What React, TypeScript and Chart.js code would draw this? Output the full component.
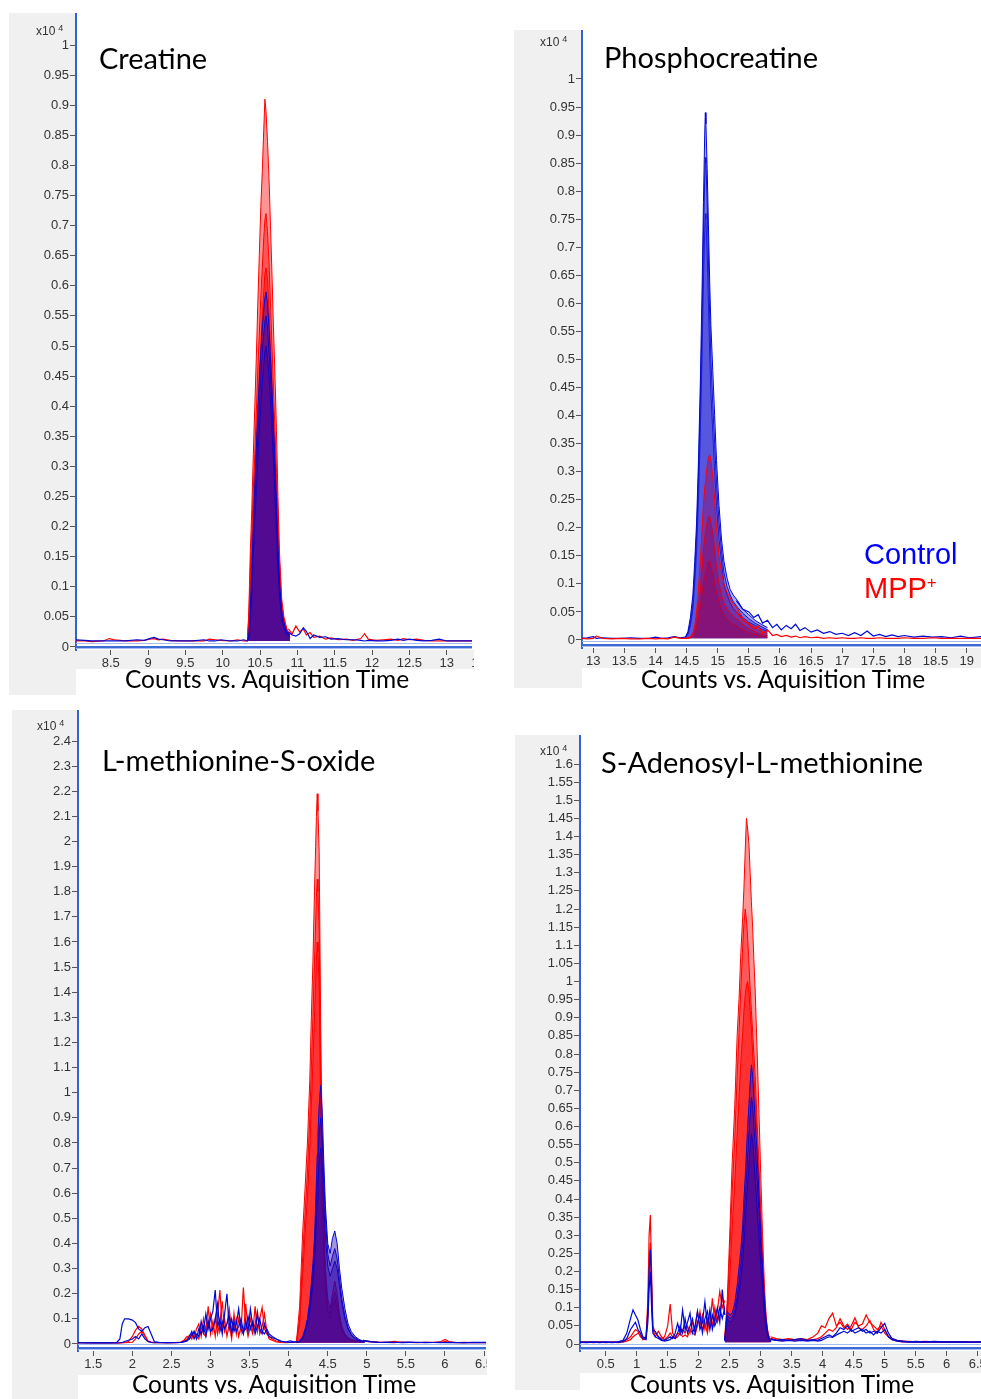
import React, { useEffect, useRef } from 'react';
import { Chart, registerables } from 'chart.js';

Chart.register(...registerables);

// ======================= Creatine =======================
const CR_X_TICKS = [8.5, 9, 9.5, 10, 10.5, 11, 11.5, 12, 12.5, 13, 13.5];
const CR_Y_TICKS = [0, 0.05, 0.1, 0.15, 0.2, 0.25, 0.3, 0.35, 0.4, 0.45, 0.5, 0.55, 0.6, 0.65, 0.7, 0.75, 0.8, 0.85, 0.9, 0.95, 1];
const CR_NOISE_T = [8.0, 8.15, 8.25, 8.4, 8.48, 8.55, 8.7, 8.85, 8.95, 9.02, 9.08, 9.14, 9.2, 9.3, 9.45, 9.6, 9.75, 9.82, 9.9, 9.98, 10.1, 10.2, 10.28, 10.34, 10.88, 10.93, 10.98, 11.03, 11.08, 11.12, 11.17, 11.22, 11.3, 11.38, 11.45, 11.55, 11.65, 11.75, 11.85, 11.9, 11.95, 12.05, 12.15, 12.25, 12.35, 12.42, 12.5, 12.6, 12.7, 12.8, 12.9, 13.0, 13.1, 13.2, 13.4];
const CR_NOISE_RED = [0.010, 0.010, 0.009, 0.010, 0.014, 0.012, 0.010, 0.010, 0.011, 0.013, 0.014, 0.012, 0.013, 0.011, 0.010, 0.010, 0.010, 0.013, 0.012, 0.011, 0.010, 0.012, 0.010, 0.010, 0.030, 0.022, 0.035, 0.025, 0.030, 0.020, 0.024, 0.016, 0.018, 0.013, 0.015, 0.012, 0.013, 0.011, 0.014, 0.022, 0.013, 0.011, 0.012, 0.013, 0.011, 0.014, 0.012, 0.013, 0.011, 0.010, 0.010, 0.010, 0.010, 0.010, 0.010];
const CR_NOISE_BLUE = [0.012, 0.011, 0.010, 0.010, 0.010, 0.010, 0.010, 0.012, 0.011, 0.014, 0.016, 0.013, 0.012, 0.010, 0.010, 0.010, 0.012, 0.010, 0.010, 0.012, 0.010, 0.010, 0.012, 0.010, 0.025, 0.020, 0.018, 0.022, 0.032, 0.026, 0.014, 0.020, 0.016, 0.017, 0.013, 0.014, 0.012, 0.012, 0.011, 0.010, 0.011, 0.010, 0.010, 0.011, 0.013, 0.011, 0.013, 0.011, 0.010, 0.011, 0.013, 0.010, 0.010, 0.010, 0.010];
const CR_PEAK_T = [10.33, 10.35, 10.37, 10.39, 10.41, 10.43, 10.45, 10.47, 10.49, 10.51, 10.53, 10.55, 10.565, 10.58, 10.60, 10.62, 10.64, 10.66, 10.68, 10.70, 10.72, 10.74, 10.76, 10.79, 10.82, 10.86, 10.90];
const CR_RED_1 = [0.01, 0.06, 0.16, 0.23, 0.32, 0.40, 0.48, 0.57, 0.65, 0.73, 0.79, 0.86, 0.91, 0.89, 0.84, 0.78, 0.70, 0.62, 0.53, 0.45, 0.36, 0.25, 0.16, 0.08, 0.05, 0.03, 0.02];
const CR_RED_2 = [0.01, 0.05, 0.13, 0.19, 0.26, 0.32, 0.39, 0.46, 0.52, 0.58, 0.63, 0.68, 0.71, 0.72, 0.69, 0.64, 0.57, 0.50, 0.43, 0.36, 0.29, 0.21, 0.14, 0.07, 0.045, 0.028, 0.018];
const CR_RED_3 = [0.01, 0.04, 0.11, 0.16, 0.22, 0.28, 0.34, 0.40, 0.45, 0.50, 0.55, 0.59, 0.62, 0.63, 0.61, 0.56, 0.50, 0.44, 0.38, 0.32, 0.25, 0.18, 0.12, 0.06, 0.04, 0.025, 0.016];
const CR_BLUE_1 = [0.01, 0.02, 0.06, 0.13, 0.20, 0.27, 0.33, 0.39, 0.44, 0.49, 0.53, 0.56, 0.58, 0.59, 0.57, 0.53, 0.48, 0.43, 0.37, 0.31, 0.24, 0.17, 0.11, 0.06, 0.04, 0.025, 0.02];
const CR_BLUE_2 = [0.01, 0.015, 0.05, 0.11, 0.18, 0.24, 0.30, 0.35, 0.40, 0.45, 0.49, 0.52, 0.54, 0.55, 0.53, 0.49, 0.45, 0.40, 0.34, 0.28, 0.22, 0.15, 0.10, 0.05, 0.035, 0.022, 0.018];
const CR_BLUE_3 = [0.01, 0.013, 0.04, 0.09, 0.15, 0.21, 0.26, 0.31, 0.36, 0.40, 0.44, 0.47, 0.49, 0.50, 0.48, 0.45, 0.41, 0.36, 0.31, 0.25, 0.19, 0.13, 0.085, 0.045, 0.03, 0.02, 0.016];

// ======================= Phosphocreatine =======================
const PC_X_TICKS = [13, 13.5, 14, 14.5, 15, 15.5, 16, 16.5, 17, 17.5, 18, 18.5, 19];
const PC_Y_TICKS = [0, 0.05, 0.1, 0.15, 0.2, 0.25, 0.3, 0.35, 0.4, 0.45, 0.5, 0.55, 0.6, 0.65, 0.7, 0.75, 0.8, 0.85, 0.9, 0.95, 1];
const PC_NOISE_T = [12.8, 12.9, 13.0, 13.05, 13.15, 13.3, 13.45, 13.6, 13.75, 13.9, 14.0, 14.1, 14.2, 14.3, 14.4, 14.48, 15.3, 15.4, 15.5, 15.58, 15.65, 15.72, 15.8, 15.88, 15.95, 16.02, 16.1, 16.18, 16.25, 16.32, 16.4, 16.5, 16.6, 16.7, 16.8, 16.9, 17.0, 17.1, 17.2, 17.3, 17.4, 17.5, 17.6, 17.7, 17.8, 17.9, 18.0, 18.15, 18.3, 18.45, 18.6, 18.75, 18.9, 19.05, 19.25];
const PC_NOISE_BLUE = [0.003, 0.004, 0.006, 0.003, 0.004, 0.003, 0.003, 0.004, 0.003, 0.003, 0.005, 0.003, 0.004, 0.006, 0.004, 0.005, 0.07, 0.055, 0.05, 0.04, 0.045, 0.03, 0.035, 0.022, 0.028, 0.018, 0.026, 0.02, 0.028, 0.017, 0.022, 0.014, 0.018, 0.012, 0.015, 0.01, 0.012, 0.008, 0.013, 0.008, 0.016, 0.007, 0.01, 0.006, 0.009, 0.006, 0.008, 0.005, 0.007, 0.005, 0.006, 0.004, 0.007, 0.004, 0.006];
const PC_NOISE_RED = [0.003, 0.002, 0.003, 0.007, 0.003, 0.002, 0.003, 0.002, 0.002, 0.003, 0.002, 0.003, 0.002, 0.005, 0.003, 0.003, 0.05, 0.035, 0.028, 0.02, 0.025, 0.012, 0.018, 0.008, 0.01, 0.006, 0.008, 0.005, 0.007, 0.004, 0.006, 0.004, 0.005, 0.003, 0.004, 0.003, 0.004, 0.003, 0.003, 0.004, 0.003, 0.003, 0.004, 0.003, 0.003, 0.003, 0.004, 0.003, 0.003, 0.004, 0.003, 0.003, 0.003, 0.003, 0.003];
const PC_PEAK_T = [14.48, 14.52, 14.56, 14.60, 14.63, 14.66, 14.69, 14.72, 14.75, 14.77, 14.79, 14.80, 14.81, 14.83, 14.85, 14.87, 14.89, 14.92, 14.95, 14.98, 15.02, 15.06, 15.10, 15.15, 15.20, 15.25, 15.32, 15.40, 15.50, 15.60, 15.70, 15.80];
const PC_BLUE_1 = [0.005, 0.015, 0.04, 0.08, 0.14, 0.21, 0.32, 0.46, 0.64, 0.78, 0.90, 0.94, 0.92, 0.84, 0.74, 0.64, 0.56, 0.48, 0.40, 0.32, 0.24, 0.18, 0.14, 0.11, 0.09, 0.08, 0.07, 0.055, 0.045, 0.035, 0.028, 0.022];
const PC_BLUE_2 = [0.004, 0.012, 0.03, 0.065, 0.12, 0.19, 0.29, 0.42, 0.58, 0.72, 0.82, 0.86, 0.85, 0.78, 0.68, 0.58, 0.50, 0.42, 0.35, 0.28, 0.21, 0.16, 0.12, 0.095, 0.08, 0.068, 0.058, 0.048, 0.038, 0.03, 0.024, 0.018];
const PC_BLUE_3 = [0.004, 0.01, 0.025, 0.055, 0.10, 0.16, 0.25, 0.37, 0.52, 0.64, 0.73, 0.76, 0.75, 0.69, 0.60, 0.51, 0.44, 0.37, 0.30, 0.24, 0.18, 0.14, 0.10, 0.08, 0.066, 0.056, 0.048, 0.04, 0.032, 0.026, 0.02, 0.015];
const PC_RED_1 = [0.003, 0.004, 0.006, 0.012, 0.025, 0.05, 0.09, 0.14, 0.20, 0.24, 0.27, 0.28, 0.29, 0.31, 0.325, 0.33, 0.32, 0.29, 0.25, 0.20, 0.15, 0.12, 0.10, 0.085, 0.075, 0.065, 0.055, 0.04, 0.03, 0.022, 0.015, 0.012];
const PC_RED_2 = [0.003, 0.003, 0.005, 0.009, 0.018, 0.035, 0.06, 0.09, 0.13, 0.16, 0.18, 0.19, 0.20, 0.21, 0.22, 0.22, 0.21, 0.19, 0.16, 0.13, 0.10, 0.08, 0.065, 0.055, 0.048, 0.042, 0.036, 0.028, 0.02, 0.015, 0.01, 0.008];
const PC_RED_3 = [0.003, 0.003, 0.004, 0.007, 0.012, 0.022, 0.04, 0.06, 0.085, 0.10, 0.115, 0.12, 0.125, 0.13, 0.14, 0.14, 0.13, 0.12, 0.10, 0.085, 0.068, 0.055, 0.045, 0.038, 0.032, 0.028, 0.024, 0.018, 0.013, 0.01, 0.007, 0.005];

// ======================= L-methionine-S-oxide =======================
const LM_X_TICKS = [1.5, 2, 2.5, 3, 3.5, 4, 4.5, 5, 5.5, 6, 6.5];
const LM_Y_TICKS = [0, 0.1, 0.2, 0.3, 0.4, 0.5, 0.6, 0.7, 0.8, 0.9, 1, 1.1, 1.2, 1.3, 1.4, 1.5, 1.6, 1.7, 1.8, 1.9, 2, 2.1, 2.2, 2.3, 2.4];
const LM_NOISE_T = [1.3, 1.4, 1.5, 1.6, 1.7, 1.8, 1.84, 1.87, 1.9, 1.95, 2.0, 2.04, 2.08, 2.12, 2.16, 2.2, 2.24, 2.28, 2.35, 2.45, 2.55, 2.62, 2.66, 2.7, 2.73, 2.76, 2.79, 2.82, 2.85, 2.88, 2.91, 2.94, 2.97, 3.0, 3.03, 3.06, 3.09, 3.12, 3.15, 3.18, 3.21, 3.24, 3.27, 3.3, 3.33, 3.36, 3.39, 3.42, 3.45, 3.48, 3.51, 3.54, 3.57, 3.6, 3.63, 3.66, 3.69, 3.72, 3.75, 3.79, 3.84, 3.9, 3.96, 4.02, 4.08, 4.12, 4.95, 5.05, 5.15, 5.25, 5.35, 5.45, 5.55, 5.65, 5.75, 5.85, 5.95, 6.0, 6.05, 6.15, 6.25, 6.35, 6.55];
const LM_NOISE_RED_A = [
  0.005, 0.005, 0.006, 0.005, 0.005, 0.005, 0.005, 0.005, 0.006, 0.01,
  0.03, 0.055, 0.07, 0.06, 0.035, 0.012, 0.008, 0.006, 0.006, 0.005,
  0.006, 0.008, 0.015, 0.03, 0.02, 0.04, 0.025, 0.06, 0.08, 0.03,
  0.1, 0.05, 0.15, 0.04, 0.09, 0.03, 0.12, 0.215, 0.06, 0.1,
  0.03, 0.08, 0.02, 0.12, 0.04, 0.1, 0.05, 0.225, 0.08, 0.03,
  0.07, 0.04, 0.15, 0.05, 0.1, 0.145, 0.06, 0.04, 0.03, 0.02,
  0.012, 0.008, 0.006, 0.006, 0.008, 0.01, 0.015, 0.01, 0.008, 0.007,
  0.01, 0.006, 0.007, 0.006, 0.007, 0.006, 0.01, 0.018, 0.01, 0.006,
  0.007, 0.006, 0.006];
const LM_NOISE_RED_B = [
  0.004, 0.006, 0.004, 0.005, 0.004, 0.005, 0.004, 0.005, 0.005, 0.006,
  0.007, 0.02, 0.04, 0.05, 0.03, 0.01, 0.006, 0.005, 0.005, 0.006,
  0.005, 0.006, 0.01, 0.02, 0.035, 0.02, 0.05, 0.03, 0.02, 0.07,
  0.04, 0.03, 0.08, 0.12, 0.05, 0.1, 0.04, 0.09, 0.17, 0.05,
  0.08, 0.14, 0.05, 0.06, 0.1, 0.03, 0.07, 0.04, 0.16, 0.06,
  0.1, 0.05, 0.08, 0.13, 0.04, 0.07, 0.12, 0.05, 0.02, 0.015,
  0.008, 0.006, 0.005, 0.006, 0.007, 0.01, 0.012, 0.008, 0.007, 0.006,
  0.005, 0.008, 0.006, 0.005, 0.006, 0.007, 0.006, 0.01, 0.007, 0.005,
  0.006, 0.005, 0.005];
const LM_NOISE_BLUE_A = [
  0.006, 0.005, 0.005, 0.006, 0.005, 0.006, 0.02, 0.08, 0.1, 0.1,
  0.095, 0.085, 0.06, 0.05, 0.065, 0.07, 0.04, 0.01, 0.006, 0.005,
  0.006, 0.007, 0.01, 0.015, 0.03, 0.05, 0.02, 0.04, 0.03, 0.09,
  0.05, 0.12, 0.06, 0.1, 0.13, 0.215, 0.07, 0.1, 0.04, 0.12,
  0.2, 0.06, 0.1, 0.05, 0.08, 0.14, 0.06, 0.04, 0.09, 0.05,
  0.14, 0.07, 0.05, 0.12, 0.06, 0.04, 0.08, 0.05, 0.03, 0.025,
  0.02, 0.01, 0.008, 0.012, 0.008, 0.01, 0.012, 0.008, 0.006, 0.008,
  0.006, 0.007, 0.008, 0.006, 0.007, 0.006, 0.005, 0.006, 0.007, 0.006,
  0.005, 0.007, 0.006];
const LM_NOISE_BLUE_B = [
  0.005, 0.004, 0.005, 0.004, 0.005, 0.004, 0.005, 0.006, 0.01, 0.015,
  0.02, 0.03, 0.02, 0.04, 0.02, 0.01, 0.006, 0.005, 0.005, 0.006,
  0.005, 0.006, 0.008, 0.012, 0.02, 0.035, 0.05, 0.02, 0.06, 0.04,
  0.07, 0.03, 0.09, 0.05, 0.06, 0.1, 0.16, 0.05, 0.09, 0.06,
  0.08, 0.11, 0.04, 0.09, 0.05, 0.07, 0.1, 0.05, 0.06, 0.11,
  0.06, 0.09, 0.04, 0.07, 0.1, 0.05, 0.04, 0.06, 0.04, 0.03,
  0.02, 0.012, 0.008, 0.006, 0.008, 0.01, 0.015, 0.01, 0.007, 0.006,
  0.007, 0.005, 0.006, 0.007, 0.005, 0.006, 0.007, 0.005, 0.006, 0.005,
  0.006, 0.005, 0.005];
const LM_PEAK_T = [4.1, 4.14, 4.18, 4.21, 4.24, 4.27, 4.29, 4.31, 4.33, 4.345, 4.355, 4.365, 4.375, 4.39, 4.41, 4.43, 4.45, 4.47, 4.5, 4.53, 4.56, 4.59, 4.62, 4.65, 4.68, 4.72, 4.76, 4.8, 4.85, 4.9, 4.97];
const LM_RED_1 = [0.01, 0.15, 0.45, 0.62, 0.8, 1.05, 1.3, 1.52, 1.8, 1.98, 2.1, 2.19, 2.12, 1.96, 1.25, 0.8, 0.5, 0.3, 0.18, 0.14, 0.2, 0.25, 0.2, 0.12, 0.07, 0.04, 0.025, 0.018, 0.014, 0.012, 0.01];
const LM_RED_2 = [0.01, 0.1, 0.35, 0.52, 0.68, 0.9, 1.1, 1.3, 1.52, 1.68, 1.78, 1.85, 1.8, 1.65, 1.05, 0.68, 0.42, 0.26, 0.15, 0.12, 0.17, 0.21, 0.17, 0.1, 0.06, 0.035, 0.022, 0.016, 0.012, 0.01, 0.008];
const LM_RED_3 = [0.008, 0.08, 0.28, 0.44, 0.58, 0.77, 0.95, 1.12, 1.3, 1.44, 1.53, 1.6, 1.56, 1.42, 0.9, 0.58, 0.36, 0.22, 0.13, 0.1, 0.14, 0.18, 0.14, 0.09, 0.05, 0.03, 0.02, 0.014, 0.01, 0.009, 0.007];
const LM_BLUE_1 = [0.006, 0.012, 0.03, 0.06, 0.1, 0.17, 0.24, 0.32, 0.42, 0.55, 0.65, 0.75, 0.84, 0.95, 1.03, 0.92, 0.72, 0.55, 0.4, 0.36, 0.42, 0.45, 0.4, 0.3, 0.22, 0.14, 0.08, 0.05, 0.03, 0.018, 0.01];
const LM_BLUE_2 = [0.006, 0.01, 0.025, 0.05, 0.09, 0.15, 0.21, 0.28, 0.37, 0.48, 0.57, 0.66, 0.74, 0.84, 0.9, 0.82, 0.64, 0.5, 0.36, 0.31, 0.35, 0.38, 0.34, 0.26, 0.18, 0.11, 0.065, 0.04, 0.025, 0.015, 0.008];
const LM_BLUE_3 = [0.005, 0.01, 0.02, 0.045, 0.08, 0.13, 0.18, 0.24, 0.32, 0.41, 0.49, 0.57, 0.64, 0.72, 0.78, 0.71, 0.56, 0.43, 0.31, 0.27, 0.3, 0.33, 0.3, 0.23, 0.16, 0.1, 0.06, 0.035, 0.02, 0.012, 0.007];

// ======================= S-Adenosyl-L-methionine =======================
const SA_X_TICKS = [0.5, 1, 1.5, 2, 2.5, 3, 3.5, 4, 4.5, 5, 5.5, 6, 6.5];
const SA_Y_TICKS = [0, 0.05, 0.1, 0.15, 0.2, 0.25, 0.3, 0.35, 0.4, 0.45, 0.5, 0.55, 0.6, 0.65, 0.7, 0.75, 0.8, 0.85, 0.9, 0.95, 1, 1.05, 1.1, 1.15, 1.2, 1.25, 1.3, 1.35, 1.4, 1.45, 1.5, 1.55, 1.6];
const SA_NOISE_T = [0.05, 0.2, 0.3, 0.4, 0.5, 0.6, 0.7, 0.78, 0.84, 0.9, 0.94, 0.98, 1.02, 1.06, 1.1, 1.15, 1.18, 1.2, 1.22, 1.24, 1.26, 1.3, 1.35, 1.4, 1.45, 1.5, 1.54, 1.58, 1.62, 1.66, 1.7, 1.74, 1.78, 1.82, 1.86, 1.9, 1.94, 1.98, 2.02, 2.06, 2.1, 2.14, 2.18, 2.22, 2.26, 2.3, 2.34, 2.38, 2.42, 3.16, 3.25, 3.35, 3.45, 3.55, 3.65, 3.75, 3.85, 3.92, 3.98, 4.04, 4.1, 4.16, 4.22, 4.28, 4.34, 4.4, 4.46, 4.52, 4.58, 4.64, 4.7, 4.76, 4.82, 4.88, 4.94, 5.0, 5.06, 5.12, 5.2, 5.3, 5.4, 5.5, 5.65, 5.8, 5.95, 6.1, 6.25, 6.4, 6.6];
const SA_NOISE_RED_A = [
  0.005, 0.006, 0.005, 0.006, 0.005, 0.005, 0.006, 0.008, 0.012, 0.02,
  0.03, 0.04, 0.035, 0.02, 0.015, 0.02, 0.12, 0.3, 0.356, 0.2,
  0.05, 0.03, 0.02, 0.015, 0.02, 0.05, 0.11, 0.03, 0.02, 0.03,
  0.025, 0.04, 0.03, 0.05, 0.03, 0.06, 0.04, 0.09, 0.05, 0.08,
  0.04, 0.07, 0.05, 0.126, 0.06, 0.09, 0.145, 0.1, 0.12, 0.02,
  0.015, 0.012, 0.015, 0.012, 0.015, 0.012, 0.02, 0.03, 0.05, 0.045,
  0.07, 0.085, 0.05, 0.06, 0.045, 0.055, 0.04, 0.06, 0.05, 0.055,
  0.08, 0.06, 0.05, 0.04, 0.05, 0.03, 0.02, 0.015, 0.01, 0.008,
  0.007, 0.006, 0.007, 0.006, 0.005, 0.006, 0.005, 0.006, 0.005];
const SA_NOISE_RED_B = [
  0.004, 0.005, 0.004, 0.005, 0.004, 0.005, 0.004, 0.006, 0.008, 0.012,
  0.02, 0.025, 0.03, 0.025, 0.012, 0.015, 0.08, 0.22, 0.28, 0.15,
  0.04, 0.02, 0.035, 0.02, 0.012, 0.02, 0.03, 0.02, 0.015, 0.02,
  0.03, 0.02, 0.025, 0.02, 0.04, 0.03, 0.025, 0.05, 0.09, 0.04,
  0.06, 0.03, 0.08, 0.05, 0.1, 0.06, 0.08, 0.13, 0.09, 0.015,
  0.012, 0.01, 0.012, 0.01, 0.012, 0.01, 0.012, 0.015, 0.02, 0.03,
  0.04, 0.035, 0.045, 0.07, 0.05, 0.04, 0.05, 0.072, 0.045, 0.04,
  0.05, 0.065, 0.04, 0.03, 0.06, 0.04, 0.02, 0.012, 0.008, 0.006,
  0.006, 0.005, 0.006, 0.005, 0.006, 0.005, 0.006, 0.005, 0.005];
const SA_NOISE_BLUE_A = [
  0.006, 0.005, 0.006, 0.005, 0.006, 0.005, 0.006, 0.01, 0.03, 0.07,
  0.094, 0.08, 0.066, 0.04, 0.02, 0.015, 0.09, 0.2, 0.26, 0.16,
  0.04, 0.035, 0.02, 0.012, 0.01, 0.015, 0.02, 0.015, 0.03, 0.057,
  0.03, 0.094, 0.04, 0.06, 0.085, 0.03, 0.05, 0.09, 0.04, 0.06,
  0.117, 0.05, 0.095, 0.04, 0.07, 0.1, 0.06, 0.15, 0.08, 0.015,
  0.01, 0.012, 0.01, 0.012, 0.015, 0.01, 0.012, 0.01, 0.015, 0.02,
  0.025, 0.02, 0.03, 0.045, 0.04, 0.05, 0.035, 0.04, 0.045, 0.035,
  0.04, 0.03, 0.035, 0.03, 0.045, 0.057, 0.03, 0.015, 0.01, 0.008,
  0.006, 0.007, 0.006, 0.007, 0.006, 0.005, 0.006, 0.005, 0.006];
const SA_NOISE_BLUE_B = [
  0.005, 0.004, 0.005, 0.004, 0.005, 0.004, 0.005, 0.006, 0.015, 0.04,
  0.05, 0.06, 0.04, 0.03, 0.015, 0.012, 0.06, 0.15, 0.2, 0.1,
  0.03, 0.02, 0.015, 0.01, 0.008, 0.01, 0.012, 0.02, 0.015, 0.03,
  0.05, 0.03, 0.07, 0.03, 0.05, 0.07, 0.03, 0.06, 0.08, 0.03,
  0.07, 0.09, 0.04, 0.08, 0.05, 0.07, 0.1, 0.07, 0.1, 0.012,
  0.01, 0.008, 0.01, 0.008, 0.01, 0.008, 0.01, 0.008, 0.01, 0.015,
  0.02, 0.018, 0.025, 0.03, 0.035, 0.03, 0.04, 0.03, 0.035, 0.04,
  0.03, 0.035, 0.025, 0.035, 0.03, 0.04, 0.02, 0.012, 0.008, 0.006,
  0.005, 0.006, 0.005, 0.006, 0.005, 0.006, 0.005, 0.005, 0.005];
const SA_PEAK_T = [2.42, 2.46, 2.5, 2.54, 2.58, 2.62, 2.65, 2.68, 2.71, 2.73, 2.75, 2.77, 2.79, 2.81, 2.83, 2.85, 2.87, 2.89, 2.91, 2.94, 2.97, 3.0, 3.03, 3.06, 3.09, 3.12, 3.16];
const SA_RED_1 = [0.02, 0.12, 0.3, 0.5, 0.65, 0.85, 0.95, 1.08, 1.18, 1.26, 1.36, 1.45, 1.42, 1.38, 1.3, 1.22, 1.15, 1.06, 0.98, 0.82, 0.65, 0.47, 0.3, 0.16, 0.07, 0.03, 0.01];
const SA_RED_2 = [0.015, 0.1, 0.25, 0.42, 0.56, 0.74, 0.86, 0.98, 1.1, 1.16, 1.2, 1.17, 1.12, 1.05, 0.98, 0.92, 0.86, 0.8, 0.74, 0.62, 0.5, 0.37, 0.24, 0.13, 0.06, 0.025, 0.008];
const SA_RED_3 = [0.012, 0.08, 0.18, 0.32, 0.44, 0.58, 0.68, 0.78, 0.86, 0.92, 0.96, 0.99, 1.0, 0.97, 0.92, 0.87, 0.8, 0.74, 0.68, 0.57, 0.46, 0.34, 0.22, 0.12, 0.05, 0.02, 0.007];
const SA_BLUE_1 = [0.01, 0.09, 0.08, 0.085, 0.11, 0.16, 0.21, 0.26, 0.33, 0.4, 0.46, 0.53, 0.6, 0.66, 0.72, 0.77, 0.74, 0.68, 0.62, 0.53, 0.42, 0.31, 0.21, 0.12, 0.06, 0.025, 0.007];
const SA_BLUE_2 = [0.01, 0.08, 0.07, 0.075, 0.09, 0.13, 0.17, 0.22, 0.28, 0.34, 0.4, 0.46, 0.52, 0.58, 0.63, 0.68, 0.66, 0.6, 0.55, 0.46, 0.37, 0.27, 0.18, 0.1, 0.05, 0.02, 0.006];
const SA_BLUE_3 = [0.008, 0.07, 0.06, 0.065, 0.08, 0.11, 0.14, 0.18, 0.23, 0.28, 0.33, 0.39, 0.44, 0.49, 0.54, 0.58, 0.56, 0.51, 0.46, 0.38, 0.3, 0.22, 0.15, 0.08, 0.04, 0.018, 0.006];

// ======================= layout / style =======================
const RED_LINE = '#ff0000';
const BLUE_LINE = '#0008d4';
const GRAY = '#f0f0f0';
const TICK_FONT = { family: "'Liberation Sans', Arial, sans-serif", size: 13 };
const TICK_COLOR = '#333333';

interface Spec {
  key: string;
  title: string;
  canvas: { left: number; top: number; width: number; height: number };
  area: { left: number; right: number; bottom: number };
  band: number;
  xMin: number; xMax: number; yMin: number; yMax: number;
  base: number;
  xTicks: number[]; yTicks: number[];
  peakT: number[]; red: number[][]; blue: number[][];
  noiseT: number[]; redNoise: number[][]; blueNoise: number[][];
  blueOnTop: boolean;
  redFill: string; blueFill: string;
  titlePos: [number, number];
  axisTitlePos: [number, number];
  expPos: [number, number];
}

const SPECS: Spec[] = [
  {
    key: 'cr', title: 'Creatine',
    canvas: { left: 9, top: 13, width: 465, height: 682 },
    area: { left: 76, right: 472, bottom: 650 }, band: 19,
    xMin: 8.035, xMax: 13.339, yMin: -0.005, yMax: 1.0532, base: 0.01,
    xTicks: CR_X_TICKS, yTicks: CR_Y_TICKS,
    peakT: CR_PEAK_T, red: [CR_RED_1, CR_RED_2, CR_RED_3], blue: [CR_BLUE_1, CR_BLUE_2, CR_BLUE_3],
    noiseT: CR_NOISE_T, redNoise: [CR_NOISE_RED], blueNoise: [CR_NOISE_BLUE],
    blueOnTop: true, redFill: 'rgba(255,0,0,0.42)', blueFill: 'rgba(40,0,170,0.42)',
    titlePos: [99, 43], axisTitlePos: [125, 667], expPos: [36, 25],
  },
  {
    key: 'pc', title: 'Phosphocreatine',
    canvas: { left: 514, top: 30, width: 467, height: 658 },
    area: { left: 582, right: 981, bottom: 648 }, band: 20,
    xMin: 12.818, xMax: 19.231, yMin: -0.0143, yMax: 1.0873, base: 0.003,
    xTicks: PC_X_TICKS, yTicks: PC_Y_TICKS,
    peakT: PC_PEAK_T, red: [PC_RED_1, PC_RED_2, PC_RED_3], blue: [PC_BLUE_1, PC_BLUE_2, PC_BLUE_3],
    noiseT: PC_NOISE_T, redNoise: [PC_NOISE_RED], blueNoise: [PC_NOISE_BLUE],
    blueOnTop: false, redFill: 'rgba(150,0,90,0.38)', blueFill: 'rgba(40,40,215,0.4)',
    titlePos: [604, 42], axisTitlePos: [641, 667], expPos: [540, 36],
  },
  {
    key: 'lm', title: 'L-methionine-S-oxide',
    canvas: { left: 12, top: 710, width: 475, height: 689 },
    area: { left: 78, right: 486, bottom: 1351 }, band: 24,
    xMin: 1.304, xMax: 6.525, yMin: -0.0279, yMax: 2.5234, base: 0.005,
    xTicks: LM_X_TICKS, yTicks: LM_Y_TICKS,
    peakT: LM_PEAK_T, red: [LM_RED_1, LM_RED_2, LM_RED_3], blue: [LM_BLUE_1, LM_BLUE_2, LM_BLUE_3],
    noiseT: LM_NOISE_T, redNoise: [LM_NOISE_RED_A, LM_NOISE_RED_B], blueNoise: [LM_NOISE_BLUE_A, LM_NOISE_BLUE_B],
    blueOnTop: true, redFill: 'rgba(255,0,0,0.42)', blueFill: 'rgba(40,0,170,0.42)',
    titlePos: [102, 745], axisTitlePos: [132, 1372], expPos: [37, 720],
  },
  {
    key: 'sa', title: 'S-Adenosyl-L-methionine',
    canvas: { left: 515, top: 735, width: 466, height: 655 },
    area: { left: 580, right: 981, bottom: 1351 }, band: 22,
    xMin: 0.0855, xMax: 6.553, yMin: -0.0193, yMax: 1.68, base: 0.005,
    xTicks: SA_X_TICKS, yTicks: SA_Y_TICKS,
    peakT: SA_PEAK_T, red: [SA_RED_1, SA_RED_2, SA_RED_3], blue: [SA_BLUE_1, SA_BLUE_2, SA_BLUE_3],
    noiseT: SA_NOISE_T, redNoise: [SA_NOISE_RED_A, SA_NOISE_RED_B], blueNoise: [SA_NOISE_BLUE_A, SA_NOISE_BLUE_B],
    blueOnTop: true, redFill: 'rgba(255,0,0,0.42)', blueFill: 'rgba(40,0,170,0.42)',
    titlePos: [601, 747], axisTitlePos: [630, 1372], expPos: [540, 745],
  },
];

const pts = (t: number[], y: number[]) => t.map((x, i) => ({ x, y: y[i] }));

// noise traces are broken where they skip over the integrated peak window
const gappedPts = (t: number[], y: number[]) => {
  const out: { x: number; y: number | null }[] = [];
  t.forEach((x, i) => {
    if (i > 0 && x - t[i - 1] > 0.3) out.push({ x: (x + t[i - 1]) / 2, y: null });
    out.push({ x, y: y[i] });
  });
  return out;
};

function buildDatasets(s: Spec) {
  const line = (t: number[], y: number[], color: string) => ({
    data: gappedPts(t, y), borderColor: color, borderWidth: 1.2, pointRadius: 0, fill: false, tension: 0, spanGaps: false,
  });
  const peak = (t: number[], y: number[], color: string, fillColor: string) => ({
    data: pts(t, y), borderColor: color, backgroundColor: fillColor, borderWidth: 1, pointRadius: 0,
    fill: { value: s.base }, tension: 0,
  });
  const rN = s.redNoise.map((y) => line(s.noiseT, y, RED_LINE));
  const bN = s.blueNoise.map((y) => line(s.noiseT, y, BLUE_LINE));
  const rP = s.red.map((y) => peak(s.peakT, y, RED_LINE, s.redFill));
  const bP = s.blue.map((y) => peak(s.peakT, y, BLUE_LINE, s.blueFill));
  // dataset 0 is painted last (on top)
  return s.blueOnTop ? [...bN, ...rN, ...bP, ...rP] : [...rN, ...bN, ...rP, ...bP];
}

function Panel({ s }: { s: Spec }) {
  const ref = useRef<HTMLCanvasElement | null>(null);
  useEffect(() => {
    const canvas = ref.current;
    if (!canvas) return;
    const cRight = s.canvas.left + s.canvas.width;
    const cBottom = s.canvas.top + s.canvas.height;
    const bg = {
      id: 'bg' + s.key,
      beforeDraw(chart: any) {
        const { ctx, chartArea: a, width, height } = chart;
        ctx.save();
        ctx.fillStyle = GRAY;
        ctx.fillRect(0, 0, a.left, height);
        ctx.fillRect(a.left, a.bottom, width - a.left, s.band);
        ctx.restore();
      },
      afterDatasetsDraw(chart: any) {
        const { ctx, chartArea: a } = chart;
        const w = a.right - a.left;
        ctx.save();
        ctx.fillStyle = '#a8bcef';
        ctx.fillRect(a.left, a.bottom - 7, w, 1);
        ctx.fillStyle = '#3d6bd6';
        ctx.fillRect(a.left, a.bottom - 4, w, 2);
        ctx.fillStyle = '#a8bcef';
        ctx.fillRect(a.left, a.bottom - 2, w, 1);
        ctx.restore();
      },
    };
    const chart = new Chart(canvas, {
      type: 'line',
      data: { datasets: buildDatasets(s) as any },
      options: {
        animation: false,
        responsive: false,
        devicePixelRatio: 1,
        events: [],
        layout: { padding: { left: 0, top: 0, right: cRight - s.area.right, bottom: 0 } },
        plugins: { legend: { display: false }, tooltip: { enabled: false }, title: { display: false } },
        scales: {
          x: {
            type: 'linear', min: s.xMin, max: s.xMax,
            afterBuildTicks: (sc: any) => { sc.ticks = s.xTicks.map((v) => ({ value: v })); },
            afterFit: (sc: any) => { sc.height = cBottom - s.area.bottom; sc.paddingLeft = 0; sc.paddingRight = 0; },
            ticks: { autoSkip: false, maxRotation: 0, minRotation: 0, padding: 1, font: TICK_FONT, color: TICK_COLOR, callback: (v: any) => String(v) },
            grid: { display: true, drawOnChartArea: false, drawTicks: true, tickLength: 5, color: '#555555' },
            border: { display: false },
          },
          y: {
            type: 'linear', min: s.yMin, max: s.yMax,
            afterBuildTicks: (sc: any) => { sc.ticks = s.yTicks.map((v) => ({ value: v })); },
            afterFit: (sc: any) => { sc.width = s.area.left - s.canvas.left; sc.paddingTop = 0; sc.paddingBottom = 0; },
            ticks: { autoSkip: false, padding: 1, font: TICK_FONT, color: TICK_COLOR, callback: (v: any) => String(v) },
            grid: { display: true, drawOnChartArea: false, drawTicks: true, tickLength: 6, color: '#555555' },
            border: { display: true, color: '#2f62d6', width: 2 },
          },
        },
      } as any,
      plugins: [bg],
    });
    return () => chart.destroy();
  }, [s]);

  return (
    <>
      <canvas
        ref={ref}
        width={s.canvas.width}
        height={s.canvas.height}
        style={{ position: 'absolute', left: s.canvas.left, top: s.canvas.top, width: s.canvas.width, height: s.canvas.height }}
      />
      <div style={{ position: 'absolute', left: s.titlePos[0], top: s.titlePos[1], font: "29px Lato, 'Open Sans', sans-serif", lineHeight: '1', color: '#000', whiteSpace: 'nowrap' }}>
        {s.title}
      </div>
      <div style={{ position: 'absolute', left: s.axisTitlePos[0], top: s.axisTitlePos[1], font: "24.5px Lato, 'Open Sans', sans-serif", lineHeight: '1', color: '#000', whiteSpace: 'nowrap' }}>
        Counts vs. Aquisition Time
      </div>
      <div style={{ position: 'absolute', left: s.expPos[0], top: s.expPos[1], font: "12px 'Liberation Sans', Arial, sans-serif", lineHeight: '1', color: '#333', whiteSpace: 'nowrap' }}>
        x10<span style={{ fontSize: 9, position: 'relative', top: -4, marginLeft: 3 }}>4</span>
      </div>
    </>
  );
}

export default function App() {
  return (
    <div style={{ position: 'absolute', left: 0, top: 0, width: 981, height: 1399, background: '#ffffff', overflow: 'hidden' }}>
      {SPECS.map((s) => (
        <Panel key={s.key} s={s} />
      ))}
      <div style={{ position: 'absolute', left: 864, top: 540, font: "29px 'Liberation Sans', Arial, sans-serif", lineHeight: '1', color: '#0000ff', whiteSpace: 'nowrap' }}>
        Control
      </div>
      <div style={{ position: 'absolute', left: 864, top: 574, font: "29px 'Liberation Sans', Arial, sans-serif", lineHeight: '1', color: '#ff0000', whiteSpace: 'nowrap' }}>
        MPP<span style={{ fontSize: 17, position: 'relative', top: -10 }}>+</span>
      </div>
    </div>
  );
}
